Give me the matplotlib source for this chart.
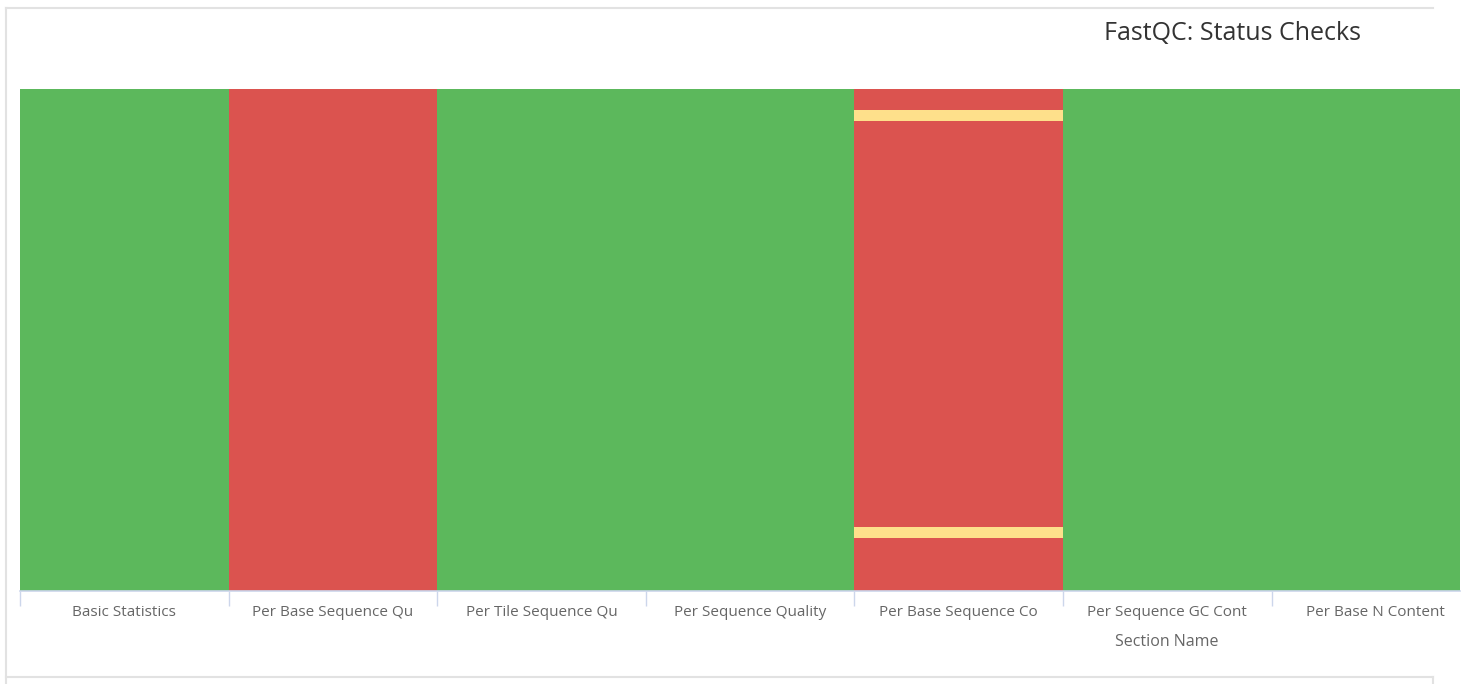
import matplotlib
matplotlib.use("Agg")
import matplotlib.pyplot as plt
from matplotlib.colors import ListedColormap, BoundaryNorm
from matplotlib.lines import Line2D
import numpy as np

plt.rcParams['font.family'] = ['Open Sans', 'DejaVu Sans']

# FastQC section names (truncated as in the report)
sections = [
    "Basic Statistics",
    "Per Base Sequence Qu",
    "Per Tile Sequence Qu",
    "Per Sequence Quality",
    "Per Base Sequence Co",
    "Per Sequence GC Cont",
    "Per Base N Content",
]

n_samples = 47

# Status of each section for every sample, top to bottom
basic_statistics = ["pass"] * n_samples
per_base_seq_quality = ["fail"] * n_samples
per_tile_seq_quality = ["pass"] * n_samples
per_seq_quality = ["pass"] * n_samples
per_base_seq_content = ["fail"] * 2 + ["warn"] + ["fail"] * 38 + ["warn"] + ["fail"] * 5
per_seq_gc_content = ["pass"] * n_samples
per_base_n_content = ["pass"] * n_samples

status_value = {"fail": 0.25, "warn": 0.5, "pass": 1.0}
status_colors = ["#db534f", "#fee08b", "#5cb85c"]

columns = [basic_statistics, per_base_seq_quality, per_tile_seq_quality,
           per_seq_quality, per_base_seq_content, per_seq_gc_content,
           per_base_n_content]
grid = np.array([[status_value[s] for s in col] for col in columns]).T

W, H = 1465, 684
fig = plt.figure(figsize=(W / 100, H / 100), dpi=100)

# Plot area in pixel coordinates
left, right, top, bottom = 20, 1460, 89, 591
col_px = 208.6
ax = fig.add_axes([left / W, 1 - bottom / H, (right - left) / W, (bottom - top) / H])

cmap = ListedColormap(status_colors)
norm = BoundaryNorm([0, 0.4, 0.75, 1.1], cmap.N)
x_edges = np.arange(len(sections) + 1) - 0.5
y_edges = np.arange(n_samples + 1)
ax.pcolormesh(x_edges, y_edges, grid, cmap=cmap, norm=norm, edgecolor="none")

for s in ax.spines.values():
    s.set_visible(False)
ax.set_yticks([])
ax.set_xticks(np.arange(len(sections)))
ax.set_xticklabels(sections, fontsize=11, color="#666666")
ax.tick_params(axis="x", length=0, pad=10)
ax.set_xticks(x_edges, minor=True)
ax.tick_params(axis="x", which="minor", length=11, width=1, color="#ccd6eb")
ax.set_xlim(-0.5, -0.5 + (right - left) / col_px)
ax.set_ylim(n_samples, 0)
ax.axhline(n_samples, color="#ccd6eb", lw=1.2, clip_on=False)

fig.text(1167 / W, 1 - 642 / H, "Section Name", ha="center", va="center",
         fontsize=11.5, color="#666666")
fig.text(1232 / W, 1 - 33 / H, "FastQC: Status Checks", ha="center", va="center",
         fontsize=18, color="#333333")

# Light frame around the chart container
frame = "#e2e2e2"
fig.add_artist(Line2D([6 / W, 1433 / W], [1 - 8 / H, 1 - 8 / H], color=frame, lw=1.5))
fig.add_artist(Line2D([6 / W, 6 / W], [1 - 8 / H, 0], color=frame, lw=1.5))
fig.add_artist(Line2D([6 / W, 1433 / W], [1 - 677 / H, 1 - 677 / H], color=frame, lw=1.5))
fig.add_artist(Line2D([1433 / W, 1433 / W], [1 - 677 / H, 0], color=frame, lw=1.5))

fig.savefig("out.png", dpi=100, facecolor="white")
